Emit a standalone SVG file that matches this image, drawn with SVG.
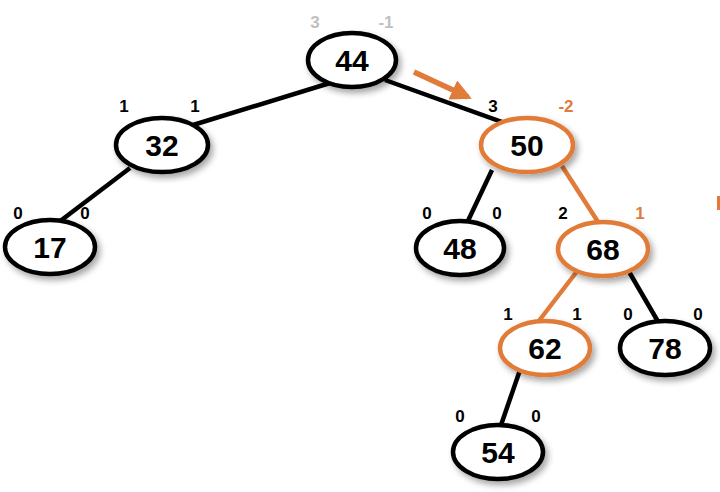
<svg xmlns="http://www.w3.org/2000/svg" width="720" height="492" viewBox="0 0 720 492">
<defs>
<filter id="sh" x="-20%" y="-20%" width="150%" height="160%">
<feDropShadow dx="3" dy="4" stdDeviation="3" flood-color="#000" flood-opacity="0.35"/>
</filter>
<marker id="ah" viewBox="0 0 10 10" refX="8" refY="5" markerWidth="3.8" markerHeight="3.8" orient="auto" markerUnits="strokeWidth">
<path d="M0,0 L10,5 L0,10 Z" fill="#e07b39"/>
</marker>
<style>
.n{fill:#fff;stroke:#000;stroke-width:4.5}
.o{stroke:#e07b39}
.e{stroke:#000;stroke-width:4.5;fill:none}
.eo{stroke:#e07b39}
.t{font-family:"Liberation Sans",Arial,sans-serif;font-weight:bold;font-size:30px;text-anchor:middle}
.s{font-family:"Liberation Sans",Arial,sans-serif;font-weight:bold;font-size:17px;text-anchor:middle}
.g{fill:#c0c0c0}
.or{fill:#e07b39}
</style>
</defs>
<rect width="720" height="492" fill="#fff"/>
<g id="connectors">
<line class="e" x1="330" y1="83" x2="193" y2="125"/>
<line class="e" x1="385" y1="80" x2="510" y2="125"/>
<line class="e" x1="130" y1="168" x2="55" y2="225"/>
<line class="e" x1="492" y1="170" x2="466" y2="225"/>
<line class="e eo" x1="562" y1="166" x2="600" y2="225"/>
<line class="e eo" x1="578" y1="270" x2="535" y2="326"/>
<line class="e" x1="628" y1="270" x2="660" y2="325"/>
<line class="e" x1="520" y1="370" x2="500" y2="428"/>
<line x1="414" y1="72" x2="468" y2="97" stroke="#e07b39" stroke-width="5.5" marker-end="url(#ah)"/>
</g>
<g id="n44"><ellipse class="n" cx="352" cy="60" rx="44" ry="27" filter="url(#sh)"/><text class="t" x="352" y="71">44</text><text class="s g" x="315" y="28">3</text><text class="s g" x="386" y="28">-1</text></g>
<g id="n32"><ellipse class="n" cx="162" cy="145" rx="46" ry="27" filter="url(#sh)"/><text class="t" x="162" y="156">32</text><text class="s" x="124" y="112">1</text><text class="s" x="195" y="112">1</text></g>
<g id="n50"><ellipse class="n o" cx="527" cy="145" rx="46" ry="27" filter="url(#sh)"/><text class="t" x="527" y="156">50</text><text class="s" x="493" y="112">3</text><text class="s or" x="566" y="112">-2</text></g>
<g id="n17"><ellipse class="n" cx="50" cy="247" rx="45" ry="27" filter="url(#sh)"/><text class="t" x="50" y="258">17</text><text class="s" x="18" y="219">0</text><text class="s" x="85" y="219">0</text></g>
<g id="n48"><ellipse class="n" cx="460" cy="248" rx="44" ry="27" filter="url(#sh)"/><text class="t" x="460" y="259">48</text><text class="s" x="427" y="219">0</text><text class="s" x="497" y="219">0</text></g>
<g id="n68"><ellipse class="n o" cx="603" cy="249" rx="45" ry="27" filter="url(#sh)"/><text class="t" x="603" y="260">68</text><text class="s" x="563" y="219">2</text><text class="s or" x="640" y="219">1</text></g>
<g id="n62"><ellipse class="n o" cx="545" cy="348" rx="45" ry="27" filter="url(#sh)"/><text class="t" x="545" y="359">62</text><text class="s" x="508" y="320">1</text><text class="s" x="577" y="320">1</text></g>
<g id="n78"><ellipse class="n" cx="665" cy="348" rx="45" ry="27" filter="url(#sh)"/><text class="t" x="665" y="359">78</text><text class="s" x="628" y="320">0</text><text class="s" x="698" y="320">0</text></g>
<g id="n54"><ellipse class="n" cx="498" cy="452" rx="45" ry="27" filter="url(#sh)"/><text class="t" x="498" y="463">54</text><text class="s" x="460" y="422">0</text><text class="s" x="536" y="422">0</text></g>
<rect x="717" y="196" width="3" height="14" fill="#e07b39"/>
</svg>
